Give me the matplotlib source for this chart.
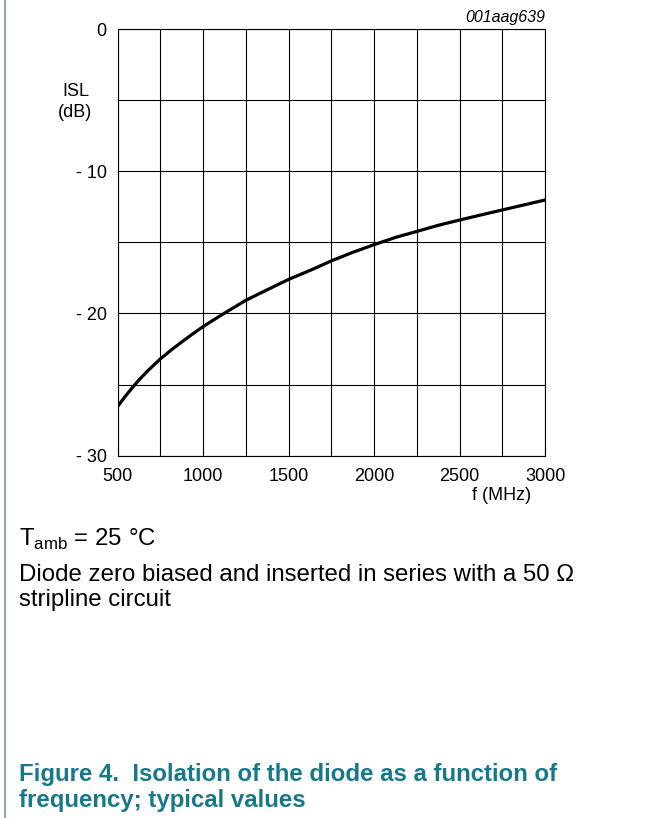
import matplotlib
matplotlib.use("Agg")
import matplotlib.pyplot as plt
from matplotlib.lines import Line2D

plt.rcParams["font.family"] = ["Liberation Sans", "DejaVu Sans"]

# ---- data ----
freq_mhz = [500, 543, 582, 625, 680, 750, 816, 875, 937, 1000, 1068, 1146,
            1250, 1375, 1500, 1635, 1750, 1875, 2000, 2125, 2250, 2375,
            2500, 2625, 2750, 2875, 3000]
isl_db = [-26.53, -25.85, -25.27, -24.67, -23.98, -23.19, -22.54, -22.0, -21.45, -20.92, -20.4, -19.82,
          -19.07, -18.33, -17.6, -16.92, -16.3, -15.7, -15.16, -14.65, -14.23, -13.8,
          -13.43, -13.07, -12.72, -12.37, -12.02]

x_ticks = [500, 1000, 1500, 2000, 2500, 3000]
y_ticks = [0, -10, -20, -30]
y_tick_labels = ["0", "- 10", "- 20", "- 30"]
caption_color = "#17788a"
W, H = 663, 818


def fx(px):
    return px / W


def fy(py):
    return 1 - py / H


fig = plt.figure(figsize=(6.63, 8.18), dpi=100)
ax = fig.add_axes([0.1775, 0.4429, 0.6447, 0.5216])

ax.plot(freq_mhz, isl_db, color="black", lw=2.3, solid_joinstyle="round")

ax.set_xlim(500, 3000)
ax.set_ylim(-30, 0)

# grid every 250 MHz / 5 dB, labels only on the major values
ax.set_xticks(range(500, 3001, 250), minor=True)
ax.set_yticks(range(-30, 1, 5), minor=True)
ax.set_xticks(x_ticks)
ax.set_yticks(y_ticks)
ax.set_yticklabels(y_tick_labels)
ax.grid(which="both", color="black", lw=0.8)
ax.tick_params(which="both", length=0, labelsize=13)
ax.tick_params(axis="x", pad=9)
ax.tick_params(axis="y", pad=8)
for s in ax.spines.values():
    s.set_linewidth(0.8)

fig.text(fx(75.5), fy(96), "ISL", ha="center", va="baseline", fontsize=13)
fig.text(fx(75), fy(117), "(dB)", ha="center", va="baseline", fontsize=13)
fig.text(fx(501.5), fy(500), "f (MHz)", ha="center", va="baseline", fontsize=13)
fig.text(fx(545), fy(22), "001aag639", ha="right", va="baseline",
         fontsize=11.5, style="italic")

fig.text(fx(19), fy(546), r"T$_{\mathregular{amb}}$ = 25 °C", ha="left",
         va="baseline", fontsize=17.3)
fig.text(fx(19), fy(581), "Diode zero biased and inserted in series with a 50 Ω",
         ha="left", va="baseline", fontsize=17.3)
fig.text(fx(19), fy(606), "stripline circuit", ha="left", va="baseline", fontsize=17.3)

fig.text(fx(19), fy(781), "Figure 4.  Isolation of the diode as a function of",
         ha="left", va="baseline", fontsize=17.3, fontweight="bold", color=caption_color)
fig.text(fx(19), fy(807), "frequency; typical values",
         ha="left", va="baseline", fontsize=17.3, fontweight="bold", color=caption_color)

# page border on the left
fig.add_artist(Line2D([fx(5), fx(5)], [0, 1], transform=fig.transFigure,
                      color="#6f98a0", lw=1.2))

fig.savefig("out.png", dpi=100)
